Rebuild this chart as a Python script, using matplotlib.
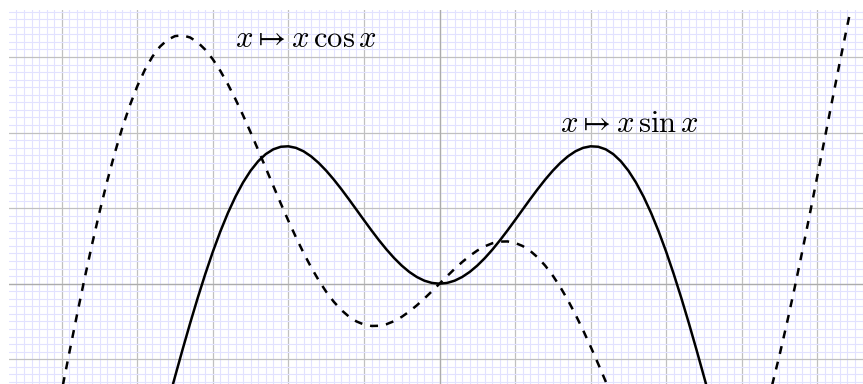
import matplotlib
matplotlib.use("Agg")
import matplotlib.pyplot as plt
from matplotlib.ticker import MultipleLocator

plt.rcParams['mathtext.fontset'] = 'cm'

# Data (solid curve: x sin x)
x_sin = [-3.6, -3.5, -3.4, -3.3, -3.2, -3.1, -3.0, -2.9, -2.8, -2.7, -2.6, -2.5,
         -2.4, -2.3, -2.2, -2.1, -2.0, -1.9, -1.8, -1.7, -1.6, -1.5, -1.4, -1.3,
         -1.2, -1.1, -1.0, -0.9, -0.8, -0.7, -0.6, -0.5, -0.4, -0.3, -0.2, -0.1,
         0.0, 0.1, 0.2, 0.3, 0.4, 0.5, 0.6, 0.7, 0.8, 0.9, 1.0, 1.1, 1.2, 1.3,
         1.4, 1.5, 1.6, 1.7, 1.8, 1.9, 2.0, 2.1, 2.2, 2.3, 2.4, 2.5, 2.6, 2.7,
         2.8, 2.9, 3.0, 3.1, 3.2, 3.3, 3.4, 3.5, 3.6]
y_sin = [-1.5931, -1.2277, -0.8688, -0.5206, -0.1868, 0.1289, 0.4234, 0.6938,
         0.9380, 1.1539, 1.3403, 1.4962, 1.6211, 1.7151, 1.7787, 1.8127, 1.8186,
         1.7980, 1.7529, 1.6858, 1.5993, 1.4962, 1.3796, 1.2526, 1.1184, 0.9803,
         0.8415, 0.7050, 0.5739, 0.4510, 0.3388, 0.2397, 0.1558, 0.0887, 0.0397,
         0.0100, 0.0,
         0.0100, 0.0397, 0.0887, 0.1558, 0.2397, 0.3388, 0.4510, 0.5739, 0.7050,
         0.8415, 0.9803, 1.1184, 1.2526, 1.3796, 1.4962, 1.5993, 1.6858, 1.7529,
         1.7980, 1.8186, 1.8127, 1.7787, 1.7151, 1.6211, 1.4962, 1.3403, 1.1539,
         0.9380, 0.6938, 0.4234, 0.1289, -0.1868, -0.5206, -0.8688, -1.2277,
         -1.5931]

# Dashed curve: x cos x
x_cos = [-5.0, -4.9, -4.8, -4.7, -4.6, -4.5, -4.4, -4.3, -4.2, -4.1, -4.0, -3.9,
         -3.8, -3.7, -3.6, -3.5, -3.4, -3.3, -3.2, -3.1, -3.0, -2.9, -2.8, -2.7,
         -2.6, -2.5, -2.4, -2.3, -2.2, -2.1, -2.0, -1.9, -1.8, -1.7, -1.6, -1.5,
         -1.4, -1.3, -1.2, -1.1, -1.0, -0.9, -0.8, -0.7, -0.6, -0.5, -0.4, -0.3,
         -0.2, -0.1, 0.0, 0.1, 0.2, 0.3, 0.4, 0.5, 0.6, 0.7, 0.8, 0.9, 1.0, 1.1,
         1.2, 1.3, 1.4, 1.5, 1.6, 1.7, 1.8, 1.9, 2.0, 2.1, 2.2, 2.3, 2.4, 2.5,
         2.6, 2.7, 2.8, 2.9, 3.0, 3.1, 3.2, 3.3, 3.4, 3.5, 3.6, 3.7, 3.8, 3.9,
         4.0, 4.1, 4.2, 4.3, 4.4, 4.5, 4.6, 4.7, 4.8, 4.9, 5.0, 5.1, 5.2, 5.3,
         5.4, 5.5, 5.6]
y_cos = [-1.4183, -0.9139, -0.4200, 0.0582, 0.5159, 0.9486, 1.3523, 1.7234,
         2.0591, 2.3568, 2.6146, 2.8311, 3.0057, 3.1380, 3.2283, 3.2776, 3.2871,
         3.2587, 3.1945, 3.0973, 2.9700, 2.8158, 2.6382, 2.4410, 2.2279, 2.0029,
         1.7697, 1.5324, 1.2947, 1.0602, 0.8323, 0.6143, 0.4090, 0.2190, 0.0467,
         -0.1061, -0.2380, -0.3478, -0.4348, -0.4990, -0.5403, -0.5594, -0.5574,
         -0.5354, -0.4952, -0.4388, -0.3684, -0.2866, -0.1960, -0.0995, 0.0,
         0.0995, 0.1960, 0.2866, 0.3684, 0.4388, 0.4952, 0.5354, 0.5574, 0.5594,
         0.5403, 0.4990, 0.4348, 0.3478, 0.2380, 0.1061, -0.0467, -0.2190,
         -0.4090, -0.6143, -0.8323, -1.0602, -1.2947, -1.5324, -1.7697, -2.0029,
         -2.2279, -2.4410, -2.6382, -2.8158, -2.9700, -3.0973, -3.1945, -3.2587,
         -3.2871, -3.2776, -3.2283, -3.1380, -3.0057, -2.8311, -2.6146, -2.3568,
         -2.0591, -1.7234, -1.3523, -0.9486, -0.5159, -0.0582, 0.4200, 0.9139,
         1.4183, 1.9277, 2.4363, 2.9382, 3.4273, 3.8977, 4.3432]

label_sin = r'$x \mapsto x\,\sin x$'
label_cos = r'$x \mapsto x\,\cos x$'

W, H = 863, 384
fig = plt.figure(figsize=(W / 100, H / 100), dpi=100)

# layout in pixels
ox, oy, s = 439.5, 283.7, 75.55
gl, gt = 9, 10
ax = fig.add_axes([gl / W, 0, 1 - gl / W, (H - gt) / H])
ax.set_xlim((gl - ox) / s, (W - ox) / s)
ax.set_ylim((oy - H) / s, (oy - gt) / s)

for sp in ax.spines.values():
    sp.set_visible(False)
ax.xaxis.set_major_locator(MultipleLocator(1))
ax.xaxis.set_minor_locator(MultipleLocator(0.1))
ax.yaxis.set_major_locator(MultipleLocator(1))
ax.yaxis.set_minor_locator(MultipleLocator(0.1))
ax.tick_params(which='both', length=0, labelbottom=False, labelleft=False)
ax.grid(which='minor', color='#e2e2ff', linewidth=0.8, zorder=0)
ax.grid(which='major', color='#c0c0c0', linewidth=0.9, zorder=1)
ax.set_axisbelow(True)
ax.axhline(0, color='#acacac', linewidth=0.9, zorder=1.5)
ax.axvline(0, color='#acacac', linewidth=0.9, zorder=1.5)

ax.plot(x_sin, y_sin, color='black', linewidth=1.8, zorder=3,
        solid_joinstyle='round')
ax.plot(x_cos, y_cos, color='black', linewidth=1.8, zorder=3,
        linestyle=(0, (3.2, 3.2)))

ax.text((235 - ox) / s, (oy - 47) / s, label_cos, fontsize=22,
        ha='left', va='baseline', zorder=4)
ax.text((560 - ox) / s, (oy - 132) / s, label_sin, fontsize=22,
        ha='left', va='baseline', zorder=4)

fig.savefig('out.png', dpi=100)
